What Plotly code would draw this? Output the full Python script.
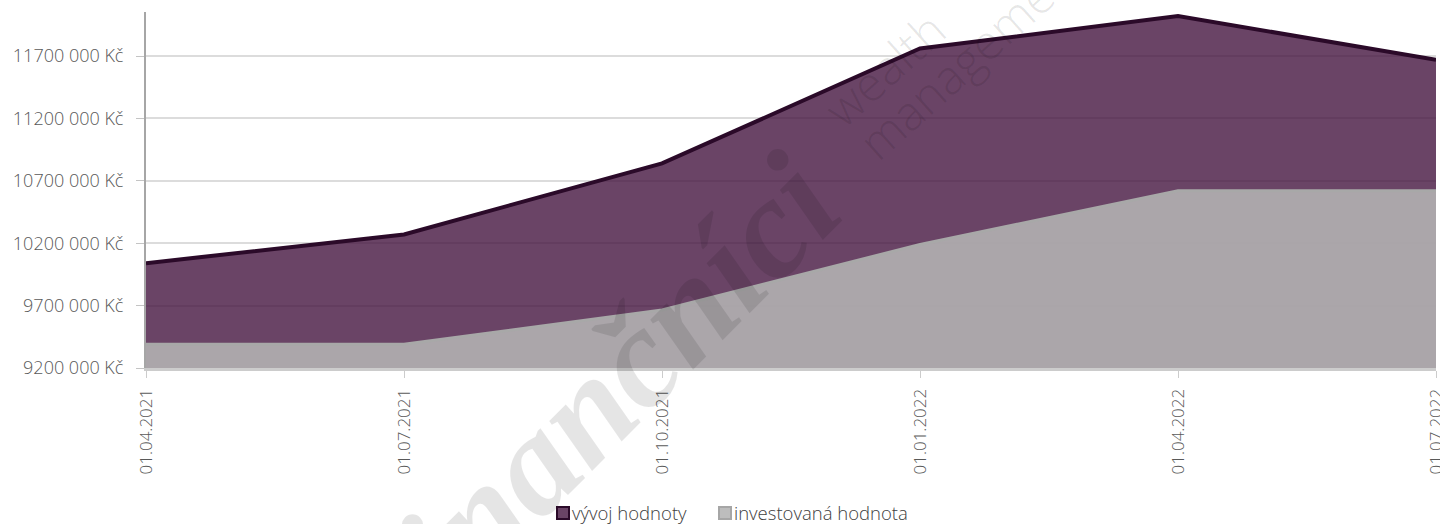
import plotly.graph_objects as go

dates = ["01.04.2021", "01.07.2021", "01.10.2021", "01.01.2022", "01.04.2022", "01.07.2022"]
vyvoj_hodnoty = [10040000, 10270000, 10840000, 11760000, 12020000, 11670000]
investovana_hodnota = [9390000, 9390000, 9665000, 10190000, 10620000, 10620000]

y_tick_vals = [9200000, 9700000, 10200000, 10700000, 11200000, 11700000]
y_tick_text = ["9200 000 Kč", "9700 000 Kč", "10200 000 Kč", "10700 000 Kč", "11200 000 Kč", "11700 000 Kč"]

series_names = ["vývoj hodnoty", "investovaná hodnota"]

PURPLE_FILL = "rgba(69,21,64,0.80)"
PURPLE_LINE = "#2b0a29"
GRAY_FILL = "rgba(180,180,180,0.88)"
GRAY_LINE = "#a8a8a8"
TXT = "#595959"
FONT = "Open Sans"
WM = "rgba(0,0,0,0.10)"

W, H = 1440, 524
ML, MR, MT, MB = 146, 4, 12, 156
PW, PH = W - ML - MR, H - MT - MB


def px(x):  # pixel -> paper x
    return (x - ML) / PW


def py(y):  # pixel -> paper y
    return (H - MB - y) / PH


fig = go.Figure()

fig.add_trace(go.Scatter(
    x=dates, y=vyvoj_hodnoty, mode="lines", fill="tozeroy", name=series_names[0],
    fillcolor=PURPLE_FILL, line=dict(color=PURPLE_LINE, width=4),
    showlegend=False, hoverinfo="skip"))
fig.add_trace(go.Scatter(
    x=dates, y=investovana_hodnota, mode="lines", fill="tozeroy", name=series_names[1],
    fillcolor=GRAY_FILL, line=dict(color=GRAY_LINE, width=3),
    showlegend=False, hoverinfo="skip"))

# manual legend (square swatch + label)
legend_items = [
    (series_names[0], 556, "#6a4466", PURPLE_LINE),
    (series_names[1], 718, "#bdbdbd", "#a6a6a6"),
]
for name, x0, fc, lc in legend_items:
    fig.add_shape(type="rect", xref="paper", yref="paper",
                  x0=px(x0 + 1), x1=px(x0 + 13), y0=py(519), y1=py(507),
                  fillcolor=fc, line=dict(color=lc, width=2))
    fig.add_annotation(text=name, xref="paper", yref="paper", x=px(x0 + 14), y=py(512),
                       xanchor="left", yanchor="middle", showarrow=False,
                       font=dict(family=FONT, size=18.5, color="#404040", weight=300))

# watermark
fig.add_annotation(
    text="finančníci", xref="paper", yref="paper", x=px(601), y=py(394),
    xanchor="center", yanchor="middle", showarrow=False, textangle=-45,
    font=dict(family="Liberation Serif", size=143, color=WM,
              weight="bold", style="italic"))
for word, cx, cy in [("wealth", 884, 68), ("management", 972, 53)]:
    fig.add_annotation(
        text=word, xref="paper", yref="paper", x=px(cx), y=py(cy),
        xanchor="center", yanchor="middle", showarrow=False, textangle=-42,
        font=dict(family=FONT, size=48, color=WM, weight=300))

fig.update_layout(
    width=W, height=H,
    margin=dict(l=ML, r=MR, t=MT, b=MB, autoexpand=False),
    paper_bgcolor="white", plot_bgcolor="white",
    font=dict(family=FONT, size=16, color=TXT),
    showlegend=False,
    xaxis=dict(
        type="category", range=[0, len(dates) - 1], showgrid=False,
        showline=True, linecolor="#cccccc", linewidth=3,
        ticks="outside", ticklen=7, tickwidth=1, tickcolor="#cccccc",
        tickangle=-90, ticklabelstandoff=4,
        tickfont=dict(family=FONT, size=17, color=TXT, weight=300),
        automargin=False, zeroline=False),
    yaxis=dict(
        range=[9200000, 12052600], tickvals=y_tick_vals, ticktext=y_tick_text,
        showgrid=True, gridcolor="#dcdcdc", gridwidth=2,
        showline=True, linecolor="#a6a6a6", linewidth=2,
        ticks="outside", ticklen=8, tickwidth=1, tickcolor="#c4c4c4",
        ticklabelstandoff=9,
        tickfont=dict(family=FONT, size=18, color=TXT, weight=300),
        automargin=False, zeroline=False),
)

fig.write_html("out.html", config={"displayModeBar": False},
               post_script="document.body.style.margin='0';")
